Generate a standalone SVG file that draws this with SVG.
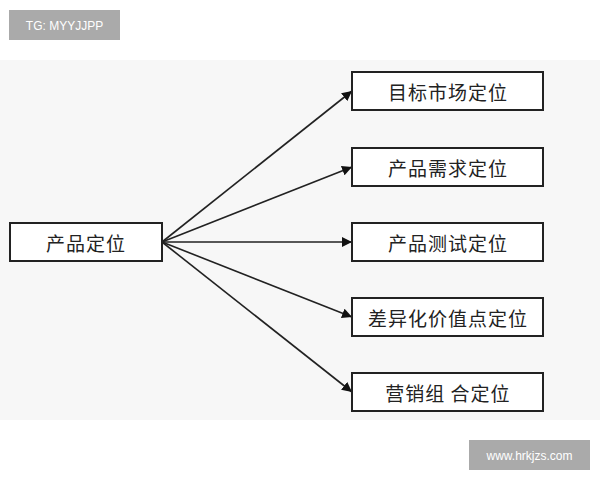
<svg xmlns="http://www.w3.org/2000/svg" width="600" height="480" viewBox="0 0 600 480">
<style>
.b{fill:#fff;stroke:#222;stroke-width:2}
.t{font-family:"Noto Sans CJK SC",sans-serif;font-size:19px;fill:#222;text-anchor:middle;dominant-baseline:central;letter-spacing:1px}
.w{font-family:"Liberation Sans",sans-serif;font-size:12px;fill:#fff;dominant-baseline:central;text-anchor:middle}
.c line{stroke:#222;stroke-width:1.6;marker-end:url(#a)}
</style>
<defs><marker id="a" viewBox="0 0 10 10" refX="10" refY="5" markerWidth="10" markerHeight="10" markerUnits="userSpaceOnUse" orient="auto"><path d="M0,0L10,5L0,10z" fill="#111"/></marker></defs>
<rect width="600" height="480" fill="#fff"/>
<rect y="60" width="600" height="360" fill="#f7f7f7"/>
<g id="wm1"><rect x="9" y="10" width="111" height="30" fill="#aaa"/><text class="w" x="64.5" y="25.5">TG: MYYJJPP</text></g>
<g id="wm2"><rect x="469" y="440" width="121" height="30" fill="#aaa"/><text class="w" x="529.5" y="455.5">www.hrkjzs.com</text></g>
<g class="c">
<line x1="162" y1="242" x2="352" y2="91"/>
<line x1="162" y1="242" x2="352" y2="167"/>
<line x1="162" y1="242" x2="352" y2="242"/>
<line x1="162" y1="242" x2="352" y2="317"/>
<line x1="162" y1="242" x2="352" y2="392"/>
</g>
<g id="n0"><rect class="b" x="10" y="223" width="152" height="38"/><text class="t" x="86" y="242">产品定位</text></g>
<g id="n1"><rect class="b" x="352" y="72" width="191" height="38"/><text class="t" x="448" y="91">目标市场定位</text></g>
<g id="n2"><rect class="b" x="352" y="148" width="191" height="38"/><text class="t" x="448" y="167">产品需求定位</text></g>
<g id="n3"><rect class="b" x="352" y="223" width="191" height="38"/><text class="t" x="448" y="242">产品测试定位</text></g>
<g id="n4"><rect class="b" x="352" y="298" width="191" height="38"/><text class="t" x="448" y="317">差异化价值点定位</text></g>
<g id="n5"><rect class="b" x="352" y="373" width="191" height="38"/><text class="t" x="448" y="392">营销组 合定位</text></g>
</svg>
